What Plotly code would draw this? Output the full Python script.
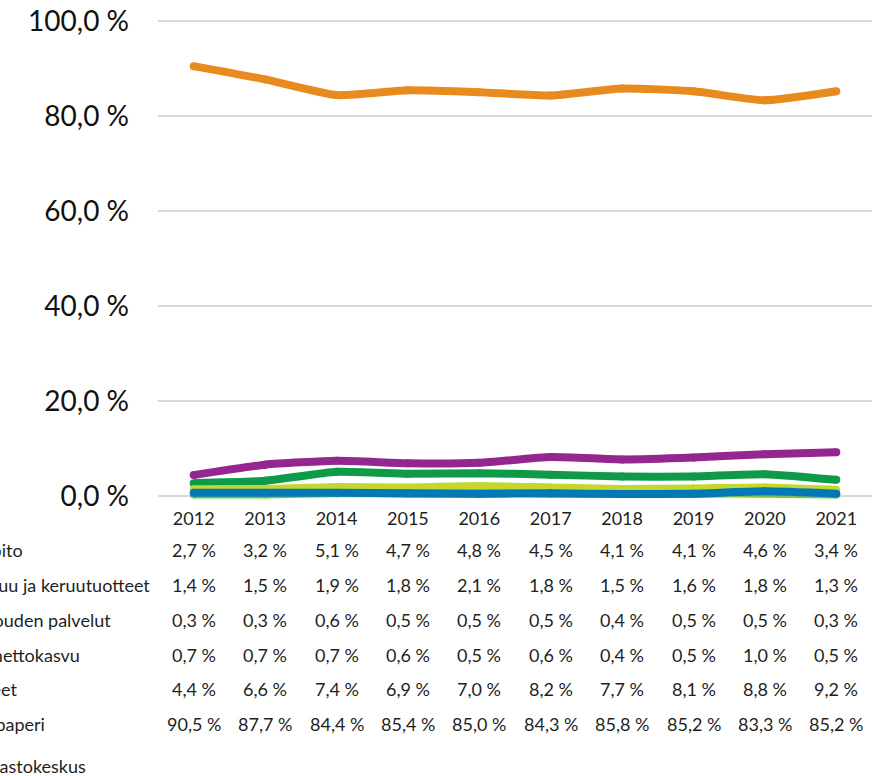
import plotly.graph_objects as go

years = [2012, 2013, 2014, 2015, 2016, 2017, 2018, 2019, 2020, 2021]

series_names = [
    "Metsien kunnossapito",
    "Polttopuu ja keruutuotteet",
    "Metsätalouden palvelut",
    "Puuston nettokasvu",
    "Muut tuotteet",
    "Massa ja paperi",
]

kunnossapito = [2.7, 3.2, 5.1, 4.7, 4.8, 4.5, 4.1, 4.1, 4.6, 3.4]
keruutuotteet = [1.4, 1.5, 1.9, 1.8, 2.1, 1.8, 1.5, 1.6, 1.8, 1.3]
palvelut = [0.3, 0.3, 0.6, 0.5, 0.5, 0.5, 0.4, 0.5, 0.5, 0.3]
nettokasvu = [0.7, 0.7, 0.7, 0.6, 0.5, 0.6, 0.4, 0.5, 1.0, 0.5]
muut = [4.4, 6.6, 7.4, 6.9, 7.0, 8.2, 7.7, 8.1, 8.8, 9.2]
paperi = [90.5, 87.7, 84.4, 85.4, 85.0, 84.3, 85.8, 85.2, 83.3, 85.2]

series_values = [kunnossapito, keruutuotteet, palvelut, nettokasvu, muut, paperi]
series_colors = ["#0E9A48", "#C3D72E", "#7DC242", "#0079B6", "#93278F", "#E88B1F"]

y_tick_vals = [0, 20, 40, 60, 80, 100]
y_tick_text = ["0,0 %", "20,0 %", "40,0 %", "60,0 %", "80,0 %", "100,0 %"]
source_text = "Lähde: Tilastokeskus"

W, H = 882, 776
M_L, M_R, M_T, M_B = 158, 10, 18, 270
PLOT_H = H - M_T - M_B
Y0_PX, Y100_PX = 496, 21
px_per_unit = (Y0_PX - Y100_PX) / 100.0
y_top = 100 + (Y100_PX - M_T) / px_per_unit
y_bot = -((H - M_B) - Y0_PX) / px_per_unit

FONT = "Lato, Calibri, sans-serif"
TXT = "#1F1F1F"


def paper_y(py):
    return ((H - M_B) - py) / PLOT_H


def paper_x(px):
    return (px - M_L) / (W - M_L - M_R)


fig = go.Figure()
for name, vals, col in zip(series_names, series_values, series_colors):
    fig.add_trace(go.Scatter(
        x=years, y=vals, name=name, mode="lines+markers",
        line=dict(color=col, width=8, shape="spline", smoothing=0.5),
        marker=dict(color=col, size=8, line=dict(width=0)),
        showlegend=False, hoverinfo="skip",
    ))

def fmt(v):
    return f"{v:.1f}".replace(".", ",") + " %"

row_y_px = [550, 585, 620, 655, 689, 724]
row_end_px = [25, 152, 113, 82, 19, 47]
annotations = []
for name, vals, ry, rend in zip(series_names, series_values, row_y_px, row_end_px):
    annotations.append(dict(
        x=paper_x(rend), y=paper_y(ry), xref="paper", yref="paper",
        text=name, showarrow=False, xanchor="right", yanchor="middle",
        font=dict(family=FONT, size=18, color=TXT),
    ))
    for yr, v in zip(years, vals):
        annotations.append(dict(
            x=yr, y=paper_y(ry), xref="x", yref="paper",
            text=fmt(v), showarrow=False, xanchor="center", yanchor="middle",
            font=dict(family=FONT, size=18, color=TXT),
        ))
annotations.append(dict(
    x=paper_x(88), y=paper_y(766), xref="paper", yref="paper",
    text=source_text, showarrow=False, xanchor="right", yanchor="middle",
    font=dict(family=FONT, size=18, color=TXT),
))

fig.update_layout(
    width=W, height=H,
    margin=dict(l=M_L, r=M_R, t=M_T, b=M_B, pad=0, autoexpand=False),
    paper_bgcolor="white", plot_bgcolor="white",
    annotations=annotations,
    hovermode=False,
    xaxis=dict(
        range=[2011.5, 2021.5], tickvals=years, ticktext=[str(y) for y in years],
        showgrid=False, zeroline=False, showline=False, ticks="",
        automargin=False, fixedrange=True,
        tickfont=dict(family=FONT, size=18, color=TXT),
    ),
    yaxis=dict(
        range=[y_bot, y_top], tickvals=y_tick_vals, ticktext=y_tick_text,
        showgrid=True, gridcolor="#D9D9D9", gridwidth=1.5, zeroline=False,
        showline=False, ticks="", ticklabelstandoff=28, automargin=False,
        fixedrange=True,
        tickfont=dict(family=FONT, size=28, color="#111111"),
    ),
)

fig.write_html(
    "out.html",
    config={"displayModeBar": False},
    post_script="document.body.style.margin='0';document.body.style.overflow='hidden';",
)
